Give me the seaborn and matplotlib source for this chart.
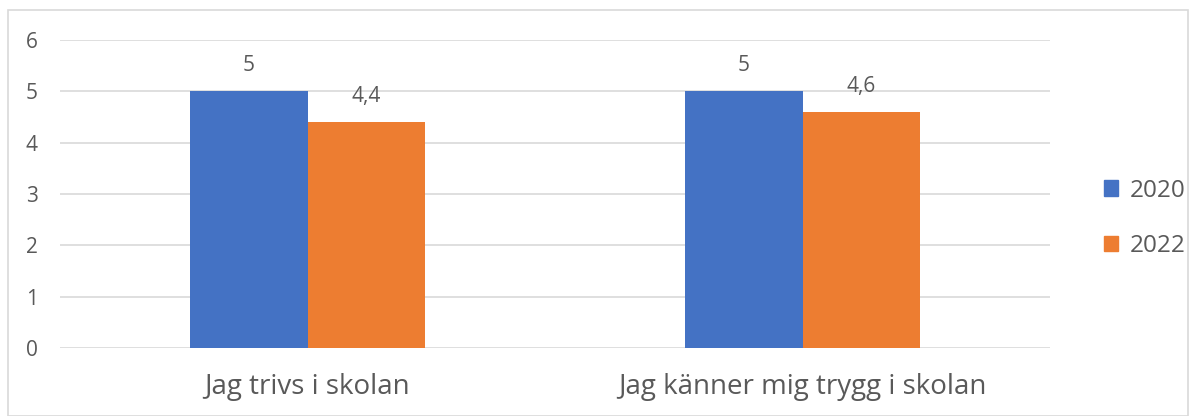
import matplotlib
matplotlib.use("Agg")
import matplotlib.pyplot as plt
import seaborn as sns
import pandas as pd
from matplotlib.patches import Rectangle, Patch

categories = ["Jag trivs i skolan", "Jag känner mig trygg i skolan"]
years = ["2020", "2022"]
values_2020 = [5, 5]
values_2022 = [4.4, 4.6]
labels_2020 = ["5", "5"]
labels_2022 = ["4,4", "4,6"]
yticks = [0, 1, 2, 3, 4, 5, 6]

df = pd.DataFrame({
    "category": categories * 2,
    "year": [years[0]] * 2 + [years[1]] * 2,
    "value": values_2020 + values_2022,
})

sns.set_theme(style="white")
plt.rcParams["font.family"] = ["Open Sans", "DejaVu Sans"]
txt = "#595959"
colors = ["#4472C4", "#ED7D31"]

fig = plt.figure(figsize=(11.94, 4.16), dpi=100)
ax = fig.add_axes([60/1194, 68/416, 990/1194, 308/416])

sns.barplot(data=df, x="category", y="value", hue="year", palette=colors,
            width=0.475, saturation=1, ax=ax, legend=False, linewidth=0)

ax.set_ylim(0, 6)
ax.set_yticks(yticks)
ax.set_yticklabels([str(t) for t in yticks], color=txt, fontsize=15)
ax.yaxis.grid(True, color="#D9D9D9", linewidth=1.2)
ax.set_axisbelow(True)
for s in ax.spines.values():
    s.set_visible(False)
ax.tick_params(axis="both", length=0)
ax.tick_params(axis="y", pad=16)
ax.tick_params(axis="x", pad=18)
ax.set_xticks(range(len(categories)))
ax.set_xticklabels(categories, color=txt, fontsize=20)
ax.set_xlabel("")
ax.set_ylabel("")
ax.set_xlim(-0.5, 1.5)

for cont, labs in zip(ax.containers, [labels_2020, labels_2022]):
    ax.bar_label(cont, labels=labs, padding=11, color=txt, fontsize=15)

handles = [Patch(color=c, label=y) for c, y in zip(colors, years)]
leg = fig.legend(handles=handles, loc="center left", bbox_to_anchor=(1082/1194, 0.475),
                 frameon=False, fontsize=17.5, handlelength=0.6, handleheight=0.6,
                 handletextpad=0.45, labelspacing=1.3, labelcolor=txt)

fig.patches.append(Rectangle((8/1194, 0), 1180/1194, 406/416, transform=fig.transFigure,
                             fill=False, edgecolor="#D9D9D9", linewidth=1.2))

fig.savefig("out.png", dpi=100)
